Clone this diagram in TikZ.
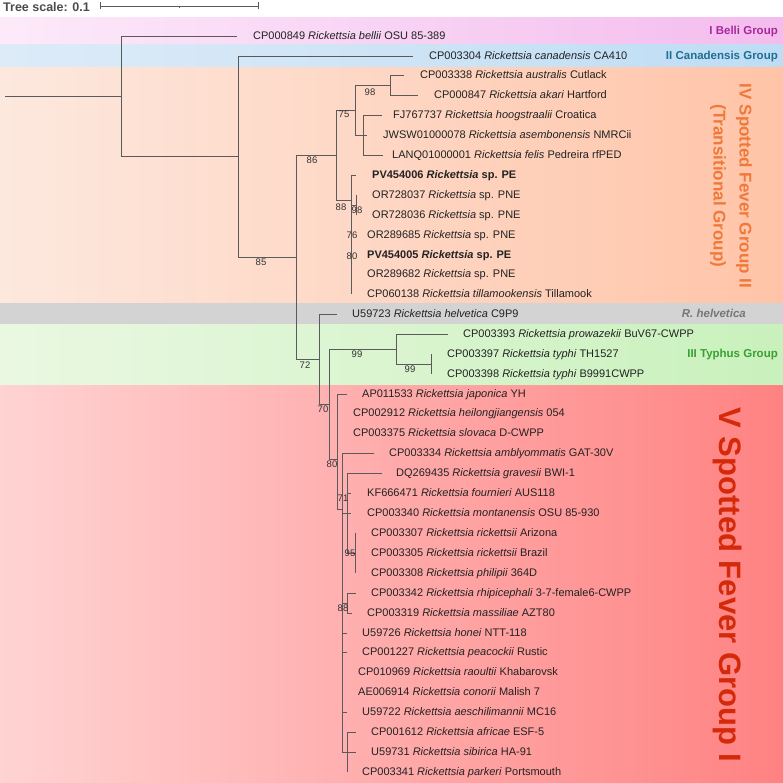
\documentclass[tikz,border=0pt]{standalone}
\usepackage{fontspec}
\setmainfont{Liberation Sans}
\definecolor{brc}{HTML}{5A5A5A}
\definecolor{txt}{HTML}{222222}
\definecolor{bsc}{HTML}{333333}
\definecolor{belL}{HTML}{FCEAFA}\definecolor{belR}{HTML}{F4BCEE}
\definecolor{canL}{HTML}{DDEBF8}\definecolor{canR}{HTML}{BEDDF4}
\definecolor{ivL}{HTML}{FDE8DE}\definecolor{ivR}{HTML}{FFC4A8}
\definecolor{helC}{HTML}{D3D3D3}
\definecolor{tyL}{HTML}{EAF8E2}\definecolor{tyR}{HTML}{C9F1BC}
\definecolor{vL}{HTML}{FFD3D3}\definecolor{vR}{HTML}{FF8282}
\definecolor{belT}{HTML}{A8289C}
\definecolor{canT}{HTML}{1F6F93}
\definecolor{ivT}{HTML}{F07838}
\definecolor{helT}{HTML}{777777}
\definecolor{tyT}{HTML}{3AA030}
\definecolor{vT}{HTML}{D42A0A}
\newcommand\tleaf[5]{\coordinate (#1) at (#2,#4);\node[lab] (t#1) at (#3,#4) {#5};}
\begin{document}
\begin{tikzpicture}[x=1pt,y=-1pt,
  br/.style={draw=brc, line width=0.8pt},
  lab/.style={anchor=west, inner sep=0pt, text height=7.9pt, text depth=0pt, font=\fontsize{11}{13}\selectfont, text=txt},
  bs/.style={inner sep=0pt, font=\fontsize{9.5}{11}\selectfont, text=bsc},
  grp/.style={inner sep=0pt, anchor=east, font=\bfseries\fontsize{11.5}{13}\selectfont}
]
\useasboundingbox (0,0) rectangle (783,783);
\fill[white] (0,0) rectangle (783,783);
% bands
\shade[left color=belL, right color=belR] (0,18) rectangle (783,45);
\shade[left color=canL, right color=canR] (0,45) rectangle (783,68);
\shade[left color=ivL, right color=ivR] (0,68) rectangle (783,303);
\fill[helC] (0,303) rectangle (783,324);
\shade[left color=tyL, right color=tyR] (0,324) rectangle (783,385);
\shade[left color=vL, right color=vR] (0,385) rectangle (783,782);
% tree scale
\node[inner sep=0pt, anchor=west, text=black!70, font=\bfseries\fontsize{12.5}{14}\selectfont] (tscale) at (3,7) {Tree scale: 0.1};
\coordinate (sbL) at (100,6); \coordinate (sbM) at (179,6); \coordinate (sbR) at (258,6);
\draw[br, line width=0.9pt] (sbL) -- (sbR);
\draw[br, line width=0.9pt] ([yshift=-3.5pt]sbL) -- ([yshift=3.5pt]sbL);
\draw[br, line width=0.9pt] ([yshift=-3.5pt]sbR) -- ([yshift=3.5pt]sbR);
\draw[br, line width=0.7pt] (sbM) -- ([yshift=-2.5pt]sbM);
% leaves: name, line end x, label x, y, text
\tleaf{bell}{237}{253}{36}{CP000849 \textit{Rickettsia bellii} OSU 85-389}
\tleaf{cana}{413}{429}{56}{CP003304 \textit{Rickettsia canadensis} CA410}
\tleaf{aust}{404}{420}{75}{CP003338 \textit{Rickettsia australis} Cutlack}
\tleaf{akar}{418}{434}{95}{CP000847 \textit{Rickettsia akari} Hartford}
\tleaf{hoog}{382}{393}{115}{FJ767737 \textit{Rickettsia hoogstraalii} Croatica}
\tleaf{asem}{367}{383}{135}{JWSW01000078 \textit{Rickettsia asembonensis} NMRCii}
\tleaf{feli}{383}{392}{155}{LANQ01000001 \textit{Rickettsia felis} Pedreira rfPED}
\tleaf{pvsix}{356}{372}{175}{\textbf{PV454006 \textit{Rickettsia} sp. PE}}
\tleaf{orA}{356}{372}{195}{OR728037 \textit{Rickettsia} sp. PNE}
\tleaf{orB}{356}{372}{215}{OR728036 \textit{Rickettsia} sp. PNE}
\tleaf{orC}{351}{367}{235}{OR289685 \textit{Rickettsia} sp. PNE}
\tleaf{pvfive}{351}{367}{255}{\textbf{PV454005 \textit{Rickettsia} sp. PE}}
\tleaf{orD}{351}{367}{274}{OR289682 \textit{Rickettsia} sp. PNE}
\tleaf{till}{351}{367}{294}{CP060138 \textit{Rickettsia tillamookensis} Tillamook}
\tleaf{helv}{337}{352}{314}{U59723 \textit{Rickettsia helvetica} C9P9}
\tleaf{prow}{448}{463}{334}{CP003393 \textit{Rickettsia prowazekii} BuV67-CWPP}
\tleaf{tyA}{431}{447}{354}{CP003397 \textit{Rickettsia typhi} TH1527}
\tleaf{tyB}{431}{447}{374}{CP003398 \textit{Rickettsia typhi} B9991CWPP}
\tleaf{japo}{347}{362}{394}{AP011533 \textit{Rickettsia japonica} YH}
\tleaf{heil}{337}{353}{413}{CP002912 \textit{Rickettsia heilongjiangensis} 054}
\tleaf{slov}{337}{353}{433}{CP003375 \textit{Rickettsia slovaca} D-CWPP}
\tleaf{ambl}{374}{389}{453}{CP003334 \textit{Rickettsia amblyommatis} GAT-30V}
\tleaf{grav}{382}{396}{473}{DQ269435 \textit{Rickettsia gravesii} BWI-1}
\tleaf{four}{351}{367}{493}{KF666471 \textit{Rickettsia fournieri} AUS118}
\tleaf{mont}{351}{367}{513}{CP003340 \textit{Rickettsia montanensis} OSU 85-930}
\tleaf{ricA}{355}{371}{533}{CP003307 \textit{Rickettsia rickettsii} Arizona}
\tleaf{ricB}{355}{371}{553}{CP003305 \textit{Rickettsia rickettsii} Brazil}
\tleaf{phil}{355}{371}{573}{CP003308 \textit{Rickettsia philipii} 364D}
\tleaf{rhip}{356}{371}{593}{CP003342 \textit{Rickettsia rhipicephali} 3-7-female6-CWPP}
\tleaf{mass}{352}{367}{613}{CP003319 \textit{Rickettsia massiliae} AZT80}
\tleaf{hone}{347}{362}{633}{U59726 \textit{Rickettsia honei} NTT-118}
\tleaf{peac}{347}{362}{652}{CP001227 \textit{Rickettsia peacockii} Rustic}
\tleaf{raou}{342}{358}{672}{CP010969 \textit{Rickettsia raoultii} Khabarovsk}
\tleaf{cono}{342}{358}{692}{AE006914 \textit{Rickettsia conorii} Malish 7}
\tleaf{aesc}{347}{362}{712}{U59722 \textit{Rickettsia aeschilimannii} MC16}
\tleaf{afri}{356}{371}{732}{CP001612 \textit{Rickettsia africae} ESF-5}
\tleaf{sibi}{356}{371}{752}{U59731 \textit{Rickettsia sibirica} HA-91}
\tleaf{park}{347}{362}{772}{CP003341 \textit{Rickettsia parkeri} Portsmouth}
% internal nodes
\coordinate (root) at (5,96);
\coordinate (nA) at (121,96);
\coordinate (nB) at (238,156);
\coordinate (nC) at (296,257);
\coordinate (nD) at (336,155);
\coordinate (nS) at (355,110);
\coordinate (nT) at (390,85);
\coordinate (nH) at (363,135);
\coordinate (nE) at (351,200);
\coordinate (nF) at (356,205);
\coordinate (nG) at (319,359);
\coordinate (nK) at (329,404);
\coordinate (nP) at (396,349);
\coordinate (nQ) at (431,364);
\coordinate (nI) at (337,459);
\coordinate (nJ) at (342,509);
\coordinate (nM) at (347,513);
\coordinate (nN) at (355,553);
\coordinate (nR) at (347,603);
\coordinate (nL) at (347,752);
% branches
\draw[br] (root) -- (nA);
\draw[br] (nA) |- (bell); \draw[br] (nA) |- (nB);
\draw[br] (nB) |- (cana); \draw[br] (nB) |- (nC);
\draw[br] (nC) |- (nD); \draw[br] (nC) |- (nG);
\draw[br] (nD) |- (nS); \draw[br] (nD) |- (nE);
\draw[br] (nS) |- (nT); \draw[br] (nS) |- (nH);
\draw[br] (nT) |- (aust); \draw[br] (nT) |- (akar);
\draw[br] (nH) |- (hoog); \draw[br] (nH) |- (asem); \draw[br] (nH) |- (feli);
\draw[br] (nE) |- (pvsix); \draw[br] (nE) |- (nF); \draw[br] (nE) |- (orC);
\draw[br] (nE) |- (pvfive); \draw[br] (nE) |- (orD); \draw[br] (nE) |- (till);
\draw[br] (nF) |- (orA); \draw[br] (nF) |- (orB);
\draw[br] (nG) |- (helv); \draw[br] (nG) |- (nK);
\draw[br] (nK) |- (nP); \draw[br] (nK) |- (nI);
\draw[br] (nP) |- (prow); \draw[br] (nP) |- (nQ);
\draw[br] (nQ) |- (tyA); \draw[br] (nQ) |- (tyB);
\draw[br] (nI) |- (japo); \draw[br] (nI) |- (heil); \draw[br] (nI) |- (slov); \draw[br] (nI) |- (nJ);
\draw[br] (nJ) |- (ambl); \draw[br] (nJ) |- (nM); \draw[br] (nJ) |- (nR);
\draw[br] (nJ) |- (hone); \draw[br] (nJ) |- (peac); \draw[br] (nJ) |- (raou);
\draw[br] (nJ) |- (cono); \draw[br] (nJ) |- (aesc); \draw[br] (nJ) |- (nL);
\draw[br] (nM) |- (grav); \draw[br] (nM) |- (four); \draw[br] (nM) |- (mont); \draw[br] (nM) |- (nN);
\draw[br] (nN) |- (ricA); \draw[br] (nN) |- (ricB); \draw[br] (nN) |- (phil);
\draw[br] (nR) |- (rhip); \draw[br] (nR) |- (mass);
\draw[br] (nL) |- (afri); \draw[br] (nL) |- (sibi); \draw[br] (nL) |- (park);
% bootstrap values
\node[bs] (b1) at (370,92) {98};
\node[bs] (b2) at (344,114) {75};
\node[bs] (b3) at (312,160) {86};
\node[bs] (b4) at (261,262) {85};
\node[bs] (b5) at (341,207) {88};
\node[bs] (b6) at (357,210) {98};
\node[bs] (b7) at (352,235) {76};
\node[bs] (b8) at (352,256) {80};
\node[bs] (b9) at (305,365) {72};
\node[bs] (b10) at (357,354) {99};
\node[bs] (b11) at (410,369) {99};
\node[bs] (b12) at (323,409) {70};
\node[bs] (b13) at (332,464) {80};
\node[bs] (b14) at (343,498) {71};
\node[bs] (b15) at (350,553) {95};
\node[bs] (b16) at (343,608) {88};
% group labels
\node[grp, text=belT] (gI) at (778,32) {I Belli Group};
\node[grp, text=canT] (gII) at (778,57) {II Canadensis Group};
\node[inner sep=0pt, rotate=-90, text=ivT, font=\bfseries\fontsize{17}{20}\selectfont] (gIVa) at (744,186) {IV Spotted Fever Group II};
\node[inner sep=0pt, rotate=-90, text=ivT, font=\bfseries\fontsize{17}{20}\selectfont] (gIVb) at (718,186) {(Transitional Group)};
\node[grp, text=helT, font=\bfseries\itshape\fontsize{11.5}{13}\selectfont] (gH) at (746,313) {R. helvetica};
\node[grp, text=tyT] (gIII) at (778,355) {III Typhus Group};
\node[inner sep=0pt, rotate=-90, text=vT, font=\bfseries\fontsize{31}{36}\selectfont] (gV) at (728,585) {V Spotted Fever Group I};
\end{tikzpicture}
\end{document}
